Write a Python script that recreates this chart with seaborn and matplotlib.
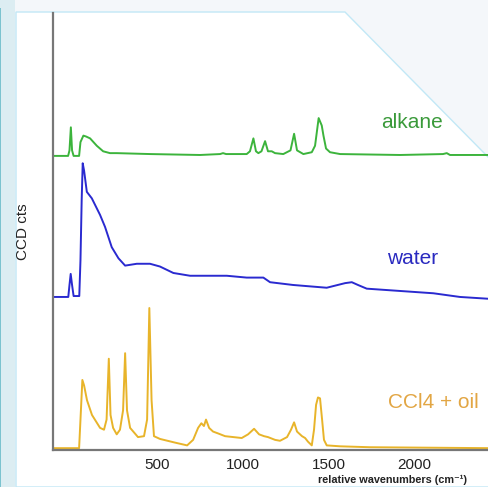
import numpy as np
import pandas as pd
import matplotlib
matplotlib.use("Agg")
import matplotlib.pyplot as plt
from matplotlib.patches import Polygon, Rectangle
import seaborn as sns

# ===============================
# DATA
# ===============================
alkane_wn = [-104, -16, -8, 0, 7, 16, 48, 56, 73, 89, 112, 151, 188, 228, 267, 461, 752, 869, 886, 904,
             1024, 1043, 1063, 1078, 1092, 1110, 1131, 1148, 1170, 1189, 1237, 1279, 1300, 1317, 1354,
             1403, 1422, 1443, 1461, 1471, 1486, 1509, 1568, 1917, 2167, 2189, 2208, 2435]
alkane_cts = [3.19, 3.19, 3.25, 3.50, 3.25, 3.19, 3.19, 3.34, 3.41, 3.40, 3.38, 3.30, 3.24, 3.22, 3.22,
              3.21, 3.20, 3.21, 3.22, 3.21, 3.21, 3.24, 3.38, 3.24, 3.22, 3.24, 3.35, 3.24, 3.24, 3.22,
              3.21, 3.25, 3.43, 3.25, 3.21, 3.23, 3.30, 3.60, 3.52, 3.41, 3.27, 3.23, 3.21, 3.20, 3.21,
              3.22, 3.20, 3.20]

water_wn = [-104, -15, -8, -1, 7, 16, 49, 56, 63, 69, 77, 93, 122, 170, 199, 238, 277, 316, 384, 461,
            519, 597, 694, 810, 908, 1024, 1121, 1160, 1294, 1490, 1597, 1636, 1672, 1723, 1878, 2111,
            2266, 2435]
water_cts = [1.66, 1.66, 1.79, 1.91, 1.79, 1.67, 1.67, 2.06, 2.71, 3.11, 3.03, 2.80, 2.73, 2.55, 2.42,
             2.20, 2.08, 2.00, 2.02, 2.02, 1.99, 1.92, 1.89, 1.89, 1.89, 1.87, 1.87, 1.82, 1.79, 1.76,
             1.81, 1.82, 1.79, 1.75, 1.73, 1.70, 1.66, 1.64]

oil_wn = [-104, 48, 56, 67, 77, 94, 123, 170, 193, 208, 221, 231, 246, 267, 286, 304, 316, 327, 345,
          391, 426, 444, 457, 470, 484, 519, 607, 677, 712, 741, 760, 775, 787, 805, 828, 857, 898,
          995, 1032, 1067, 1096, 1125, 1148, 1189, 1218, 1259, 1282, 1300, 1317, 1346, 1364, 1381,
          1403, 1416, 1428, 1439, 1451, 1463, 1474, 1490, 1568, 1742, 2435]
oil_cts = [0.02, 0.02, 0.33, 0.76, 0.70, 0.54, 0.38, 0.24, 0.22, 0.33, 0.99, 0.38, 0.24, 0.17, 0.22,
           0.43, 1.05, 0.43, 0.24, 0.14, 0.15, 0.33, 1.54, 0.54, 0.15, 0.12, 0.08, 0.05, 0.11, 0.24,
           0.29, 0.26, 0.33, 0.24, 0.20, 0.18, 0.15, 0.13, 0.17, 0.23, 0.17, 0.15, 0.14, 0.11, 0.10,
           0.14, 0.22, 0.30, 0.20, 0.15, 0.13, 0.09, 0.05, 0.22, 0.49, 0.57, 0.56, 0.33, 0.11, 0.05,
           0.04, 0.03, 0.02]

LABELS = ["alkane", "water", "CCl4 + oil"]
X_TICKS = [500, 1000, 1500, 2000]
Y_TICKS = [1.2, 2.2, 3.2, 4.2]

COLORS = {"alkane": "#3cb43c", "water": "#2a2ad0", "CCl4 + oil": "#e8b42a"}
TEXT_COLORS = {"alkane": "#3a9a3a", "water": "#2a2ac0", "CCl4 + oil": "#e2a644"}

# ===============================
# FIGURE
# ===============================
W, H = 489, 487
sns.set_style("white")
plt.rcParams['font.family'] = ['Liberation Sans', 'DejaVu Sans']

fig = plt.figure(figsize=(W / 100, H / 100), dpi=100, facecolor="#f4f7fa")


def fx(px):
    return px / W


def fy(py):
    return 1 - py / H


# decorative background panel
fig.patches.append(Rectangle((0, 0), fx(15), 1, transform=fig.transFigure,
                             facecolor="#dcedf2", edgecolor="none", zorder=-3))
fig.patches.append(Rectangle((0, 0), fx(1.5), fy(8), transform=fig.transFigure,
                             facecolor="#7cc3cf", edgecolor="none", zorder=-2))
panel = [(fx(16), fy(487)), (fx(16), fy(12)), (fx(345), fy(12)), (fx(489), fy(158)), (fx(489), fy(487))]
fig.patches.append(Polygon(panel, closed=True, transform=fig.transFigure,
                           facecolor="white", edgecolor="#c2e8f6", linewidth=1.0, zorder=-1))

ax = fig.add_axes([fx(53), fy(450), fx(489) - fx(53), fy(13) - fy(450)])
ax.patch.set_alpha(0)

series = [
    pd.DataFrame({"wn": alkane_wn, "cts": alkane_cts}),
    pd.DataFrame({"wn": water_wn, "cts": water_cts}),
    pd.DataFrame({"wn": oil_wn, "cts": oil_cts}),
]
for name, df in zip(LABELS, series):
    sns.lineplot(data=df, x="wn", y="cts", ax=ax, color=COLORS[name],
                 linewidth=1.4, estimator=None, sort=False)

ax.set_xlim(-104, 2435)
ax.set_ylim(0, 4.74)
ax.set_xticks(X_TICKS)
ax.set_xticklabels([str(t) for t in X_TICKS], fontsize=11, color="#222222")
ax.set_yticks(Y_TICKS)
ax.set_yticklabels([])
ax.tick_params(axis="x", direction="inout", length=9, width=1.3, color="#333333", pad=1.5)
ax.tick_params(axis="y", direction="inout", length=11, width=1.3, color="#333333")
ax.set_xlabel("")
ax.set_ylabel("")

for side in ["top", "right"]:
    ax.spines[side].set_visible(False)
for side in ["left", "bottom"]:
    ax.spines[side].set_color("#777777")
    ax.spines[side].set_linewidth(1.6)

# series labels
label_pos = {"alkane": (412, 122), "water": (413, 258), "CCl4 + oil": (433, 402)}
for name in LABELS:
    x, y = label_pos[name]
    fig.text(fx(x), fy(y), name, color=TEXT_COLORS[name], fontsize=15,
             ha="center", va="center")

fig.text(fx(23), fy(232), "CCD cts", rotation=90, fontsize=11, color="#222222",
         ha="center", va="center")
fig.text(fx(393), fy(483), "relative wavenumbers (cm\u207b\u00b9)", fontsize=7.8,
         fontweight="bold", color="#222222", ha="center", va="baseline")

fig.savefig("out.png", dpi=100, facecolor=fig.get_facecolor())
